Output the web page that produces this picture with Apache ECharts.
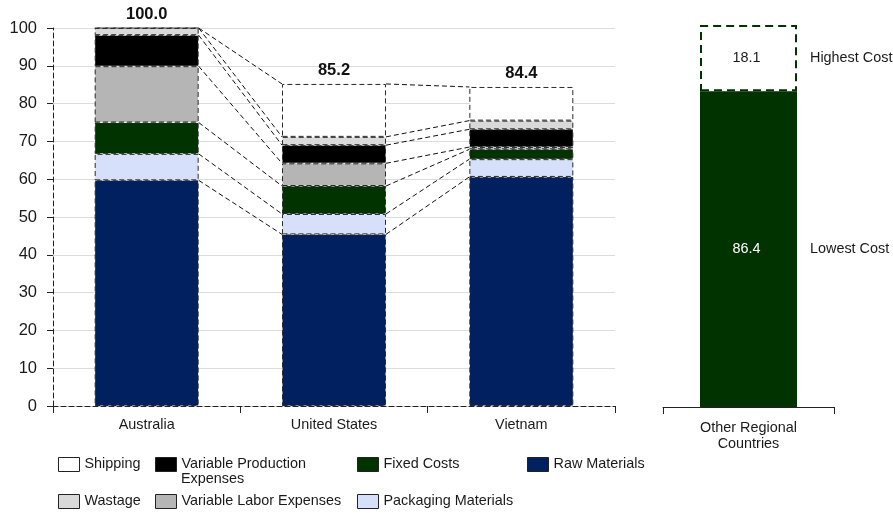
<!DOCTYPE html>
<html><head><meta charset="utf-8">
<script src="https://cdn.jsdelivr.net/npm/echarts@6/dist/echarts.min.js"></script>
<style>html,body{margin:0;padding:0;background:#fff}#c{width:893px;height:513px}</style>
</head><body><div id="c"></div>
<script>
// ---- data ----
const categories = ['Australia', 'United States', 'Vietnam'];
const rawMaterials       = [59.7, 45.4, 60.6];
const packagingMaterials = [7.0, 5.4, 4.7];
const fixedCosts         = [8.3, 7.4, 2.6];
const variableLabor      = [14.9, 6.0, 0.6];
const variableProduction = [8.2, 4.8, 4.7];
const wastage            = [1.9, 2.2, 2.3];
const shipping           = [0.0, 14.0, 8.9];
const totals             = [100.0, 85.2, 84.4];
const otherCategory      = ['Other Regional\nCountries'];
const lowestCost         = [86.4];
const highestCostGap     = [18.1];
const otherLabels        = ['Lowest Cost', 'Highest Cost'];

// ---- styling ----
const FONT = 'Liberation Sans, Arial, Helvetica, sans-serif';
const TXT = '#1a1a1a';
const BAR_FRAC = 0.555;
const stackDefs = [
  { name: 'Raw Materials', data: rawMaterials, color: '#002060' },
  { name: 'Packaging Materials', data: packagingMaterials, color: '#d6e0fb' },
  { name: 'Fixed Costs', data: fixedCosts, color: '#003300' },
  { name: 'Variable Labor Expenses', data: variableLabor, color: '#b5b5b5' },
  { name: 'Variable Production Expenses', data: variableProduction, color: '#000000' },
  { name: 'Wastage', data: wastage, color: '#d9d9d9' },
  { name: 'Shipping', data: shipping, color: '#ffffff' }
];

// cumulative tops for connector lines
const cum = categories.map(() => 0);
const connectors = [];
stackDefs.forEach(def => {
  const tops = def.data.map((v, i) => (cum[i] += v));
  for (let i = 0; i < categories.length - 1; i++) {
    connectors.push([i, tops[i], tops[i + 1]]);
  }
});

const barSeries = stackDefs.map(def => {
  const s = {
    name: def.name, type: 'bar', stack: 'total', data: def.data,
    xAxisIndex: 0, yAxisIndex: 0, barWidth: (BAR_FRAC * 100) + '%',
    itemStyle: { color: def.color, borderColor: '#2a2a2a', borderWidth: 1, borderType: [5, 3] },
    emphasis: { disabled: true }
  };
  if (def.name === 'Shipping') {
    s.label = {
      show: true, position: 'top', distance: 5,
      formatter: p => totals[p.dataIndex].toFixed(1),
      fontWeight: 'bold', fontSize: 16.5, color: '#111', fontFamily: FONT
    };
  }
  return s;
});

const legendBase = {
  padding: 0, icon: 'rect', itemWidth: 21, itemHeight: 14, selectedMode: false,
  itemStyle: { borderColor: '#222', borderWidth: 1, borderType: 'solid' },
  textStyle: { fontSize: 14.4, color: TXT, fontFamily: FONT }
};
const legendPlaces = [
  { data: ['Shipping'], left: 58, top: 457 },
  { data: ['Variable Production Expenses'], left: 155, top: 457, formatter: 'Variable Production' },
  { data: ['Fixed Costs'], left: 357, top: 457 },
  { data: ['Raw Materials'], left: 527, top: 457 },
  { data: ['Wastage'], left: 58, top: 494 },
  { data: ['Variable Labor Expenses'], left: 155, top: 494 },
  { data: ['Packaging Materials'], left: 357, top: 494 }
];

const option = {
  animation: false,
  backgroundColor: '#fff',
  textStyle: { fontFamily: FONT },
  grid: [
    { left: 53, right: 278, top: 28, bottom: 107 },
    { left: 663, right: 59, top: 5, bottom: 106 }
  ],
  xAxis: [
    {
      type: 'category', data: categories, gridIndex: 0,
      axisLine: { lineStyle: { color: '#222', type: [5, 3] } },
      axisTick: { show: true, length: 7, alignWithLabel: false, lineStyle: { color: '#222' } },
      axisLabel: { fontSize: 14.4, color: TXT, margin: 12 }
    },
    {
      type: 'category', data: otherCategory, gridIndex: 1,
      axisLine: { lineStyle: { color: '#222' } },
      axisTick: { show: true, length: 7, alignWithLabel: false, lineStyle: { color: '#222' } },
      axisLabel: { fontSize: 14.4, color: TXT, margin: 13, lineHeight: 16 }
    }
  ],
  yAxis: [
    {
      type: 'value', min: 0, max: 100, interval: 10, gridIndex: 0,
      axisLine: { show: true, lineStyle: { color: '#222', type: [5, 3] } },
      axisTick: { show: true, length: 6, lineStyle: { color: '#222' } },
      axisLabel: { fontSize: 16.5, color: TXT, margin: 16 },
      splitLine: { show: true, lineStyle: { color: '#dcdcdc' } }
    },
    {
      type: 'value', min: 0, max: 110, gridIndex: 1, show: false,
      splitLine: { show: false }
    }
  ],
  legend: legendPlaces.map(l => Object.assign({}, legendBase, l)),
  graphic: [
    { type: 'text', left: 181, top: 472, silent: true,
      style: { text: 'Expenses', fill: TXT, fontSize: 14.4, fontFamily: FONT } }
  ],
  series: barSeries.concat([
    {
      type: 'custom', xAxisIndex: 0, yAxisIndex: 0, silent: true, z: 5,
      data: connectors, encode: { x: 0, y: 1 },
      renderItem: (params, api) => {
        const i = api.value(0), a = api.value(1), b = api.value(2);
        const p1 = api.coord([i, a]);
        const p2 = api.coord([i + 1, b]);
        const half = api.size([1, 0])[0] * BAR_FRAC / 2;
        return {
          type: 'line',
          shape: { x1: p1[0] + half, y1: p1[1], x2: p2[0] - half, y2: p2[1] },
          style: { stroke: '#111', lineWidth: 1, lineDash: [5, 3] }
        };
      }
    },
    {
      name: 'Lowest', type: 'bar', stack: 'other', xAxisIndex: 1, yAxisIndex: 1,
      data: lowestCost, barWidth: 97,
      itemStyle: { color: '#003300' },
      label: {
        show: true, position: [-2, '50%'], align: 'left', verticalAlign: 'middle',
        formatter: p => '{v|' + p.value.toFixed(1) + '}{t|' + otherLabels[0] + '}',
        rich: {
          v: { width: 97, align: 'center', color: '#fff', fontSize: 14.4, fontFamily: FONT },
          t: { padding: [0, 0, 0, 15], color: TXT, fontSize: 14.4, fontFamily: FONT }
        }
      }
    },
    {
      name: 'Highest', type: 'bar', stack: 'other', xAxisIndex: 1, yAxisIndex: 1,
      data: highestCostGap, barWidth: 97,
      itemStyle: { color: '#ffffff', borderColor: '#003300', borderWidth: 2, borderType: [8, 5] },
      label: {
        show: true, position: [-2, '50%'], align: 'left', verticalAlign: 'middle',
        formatter: p => '{v|' + p.value.toFixed(1) + '}{t|' + otherLabels[1] + '}',
        rich: {
          v: { width: 97, align: 'center', color: TXT, fontSize: 14.4, fontFamily: FONT },
          t: { padding: [0, 0, 0, 15], color: TXT, fontSize: 14.4, fontFamily: FONT }
        }
      }
    }
  ])
};

const chart = echarts.init(document.getElementById('c'), null, { renderer: 'canvas' });
chart.setOption(option);
</script>
</body></html>
